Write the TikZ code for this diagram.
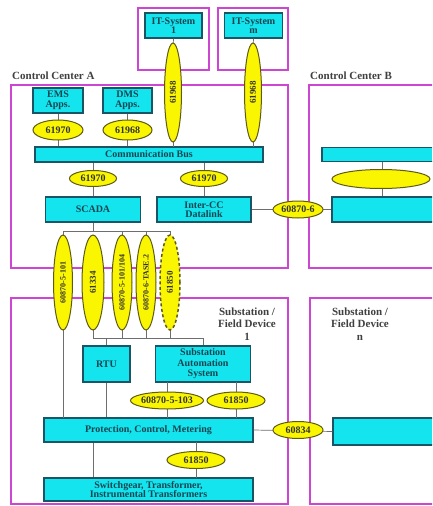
\documentclass[tikz,border=0pt]{standalone}
\usepackage{fontspec}
\setmainfont{Liberation Serif}
\usepackage{graphicx}
\usetikzlibrary{shapes.geometric}
\definecolor{cyanfill}{RGB}{20,228,238}
\definecolor{cyandraw}{RGB}{25,85,100}
\definecolor{yelfill}{RGB}{250,245,0}
\definecolor{yeldraw}{RGB}{95,90,20}
\definecolor{frameclr}{RGB}{205,70,210}
\definecolor{linegray}{RGB}{110,110,110}
\tikzset{
  cbox/.style={rectangle, draw=cyandraw, fill=cyanfill, line width=1.1pt, inner sep=0pt,
    font=\fontsize{10}{9.5}\selectfont\bfseries, align=center, text=cyandraw!80!black},
  yell/.style={ellipse, draw=yeldraw, fill=yelfill, line width=1pt, inner sep=0pt,
    font=\fontsize{10}{10}\selectfont\bfseries, text=black!80},
  tall/.style={yell, font=\fontsize{9}{9}\selectfont\bfseries},
  talls/.style={yell, font=\fontsize{8}{8}\selectfont\bfseries},
  frame/.style={draw=frameclr, line width=1.8pt},
  conn/.style={draw=linegray, line width=0.7pt},
  title/.style={font=\fontsize{11}{12.5}\selectfont\bfseries, text=black!75, inner sep=0pt, align=center}
}
\begin{document}
\begin{tikzpicture}[x=1pt,y=-1pt]
\useasboundingbox (0,0) rectangle (432,506);
\clip (0,0) rectangle (432,506);
\fill[white] (0,0) rectangle (432,506);
% frames
\draw[frame] (138,8) rectangle (209,70);
\draw[frame] (218,8) rectangle (288,70);
\draw[frame] (11,85) rectangle (288,268);
\draw[frame] (309,85) rectangle (445,268);
\draw[frame] (11,298) rectangle (288,504);
\draw[frame] (310,298) rectangle (445,504);
% titles
\node[title, anchor=west] (ccA) at (12,76) {Control Center A};
\node[title, anchor=west] (ccB) at (310,76) {Control Center B};
\node[title] (sub1) at (247,324) {Substation /\\Field Device\\1};
\node[title] (subn) at (360,324) {Substation /\\Field Device\\n};
% IT systems
\node[cbox, minimum width=57, minimum height=25] (it1) at (173.5,25.5) {IT-System\\1};
\node[cbox, minimum width=58, minimum height=25] (itm) at (253.5,25.5) {IT-System\\m};
% control center A
\node[cbox, minimum width=50, minimum height=25] (ems) at (58,100.5) {EMS\\Apps.};
\node[cbox, minimum width=49, minimum height=25] (dms) at (127.5,100.5) {DMS\\Apps.};
\node[cbox, minimum width=228, minimum height=15] (bus) at (149,154.5) {Communication Bus};
\node[cbox, minimum width=95, minimum height=25] (scada) at (93,209.5) {SCADA};
\node[cbox, minimum width=94, minimum height=25] (icc) at (204,209.5) {Inter-CC\\Datalink};
% control center B
\node[cbox, minimum width=118, minimum height=14] (bbus) at (381,154.5) {};
\node[cbox, minimum width=108, minimum height=25] (bbox) at (386,209.5) {};
% substation boxes
\node[cbox, minimum width=47, minimum height=36] (rtu) at (106.5,364) {RTU};
\node[cbox, minimum width=95, minimum height=36, font=\fontsize{10}{10.5}\selectfont\bfseries] (sas) at (203,364) {Substation\\Automation\\System};
\node[cbox, minimum width=209, minimum height=24] (prot) at (148.5,430) {Protection, Control, Metering};
\node[cbox, minimum width=209, minimum height=23] (sw) at (148.5,489.5) {Switchgear, Transformer,\\Instrumental Transformers};
\node[cbox, minimum width=107, minimum height=27] (nbox) at (386.5,431.5) {};
% connectors (drawn before ellipses)
\coordinate (hA) at (93,231);
\coordinate (hB) at (93,338);
\draw[conn] (it1.south) -- (173,50);
\draw[conn] (itm.south) -- (253,50);
\draw[conn] (ems.south) -- (ems.south |- bus.north);
\draw[conn] (dms.south) -- (dms.south |- bus.north);
\draw[conn] (173,130) -- (173,147);
\draw[conn] (253,130) -- (253,147);
\draw[conn] (bus.south -| scada) -- (scada.north);
\draw[conn] (bus.south -| icc) -- (icc.north);
\draw[conn] (icc.east) -- (bbox.west);
\draw[conn] (bbus.south -| 382,0) -- (bbox.north -| 382,0);
\draw[conn] (scada.south) -- (hA);
\draw[conn] (63,231) -- (170,231);
\foreach \xx in {63,122,146,170} \draw[conn] (\xx,231) -- (\xx,250);
\draw[conn] (63,320) -- (63,418);
\foreach \xx in {93,122,146,170} \draw[conn] (\xx,320) -- (\xx,338);
\draw[conn] (hB) -- (203,338);
\draw[conn] (106.5,338) -- (rtu.north);
\draw[conn] (203,338) -- (sas.north);
\draw[conn] (rtu.south) -- (rtu.south |- prot.north);
\draw[conn] (167,382) -- (167,418);
\draw[conn] (236,382) -- (236,418);
\draw[conn] (prot.east) -- (nbox.west);
\draw[conn] (prot.south -| hB) -- (sw.north -| hB);
\draw[conn] (196,442) -- (196,478);
% ellipses
\node[tall, minimum width=17, minimum height=99] (t1) at (173,92.5) {\rotatebox{90}{61968}};
\node[tall, minimum width=17, minimum height=99] (tm) at (253,92.5) {\rotatebox{90}{61968}};
\node[yell, minimum width=50, minimum height=20] (e1) at (58,130) {61970};
\node[yell, minimum width=49, minimum height=20] (e2) at (127.5,130) {61968};
\node[yell, minimum width=47, minimum height=16] (e3) at (93,178.5) {61970};
\node[yell, minimum width=47, minimum height=16] (e4) at (204,178.5) {61970};
\node[yell, minimum width=50, minimum height=17] (e606) at (298,209.5) {60870-6};
\node[yell, minimum width=98, minimum height=19] (bell) at (381,179) {};
\node[talls, minimum width=19, minimum height=95] (p1) at (63,282.5) {\rotatebox{90}{60870-5-101}};
\node[tall, minimum width=22, minimum height=95] (p2) at (93,282.5) {\rotatebox{90}{61334}};
\node[talls, minimum width=20, minimum height=95] (p3) at (122,282.5) {\rotatebox{90}{60870-5-101/104}};
\node[talls, minimum width=20, minimum height=95] (p4) at (146,282.5) {\rotatebox{90}{60870-6-TASE.2}};
\node[tall, minimum width=20, minimum height=95, dashed, dash pattern=on 3pt off 2.5pt, line width=1.5pt] (p5) at (170,282.5) {\rotatebox{90}{61850}};
\node[yell, minimum width=67, minimum height=17] (e5) at (167,400.5) {60870-5-103};
\node[yell, minimum width=58, minimum height=17] (e6) at (236,400.5) {61850};
\node[yell, minimum width=50, minimum height=17] (e834) at (298,430) {60834};
\node[yell, minimum width=58, minimum height=17] (e7) at (196,460) {61850};
\end{tikzpicture}
\end{document}
